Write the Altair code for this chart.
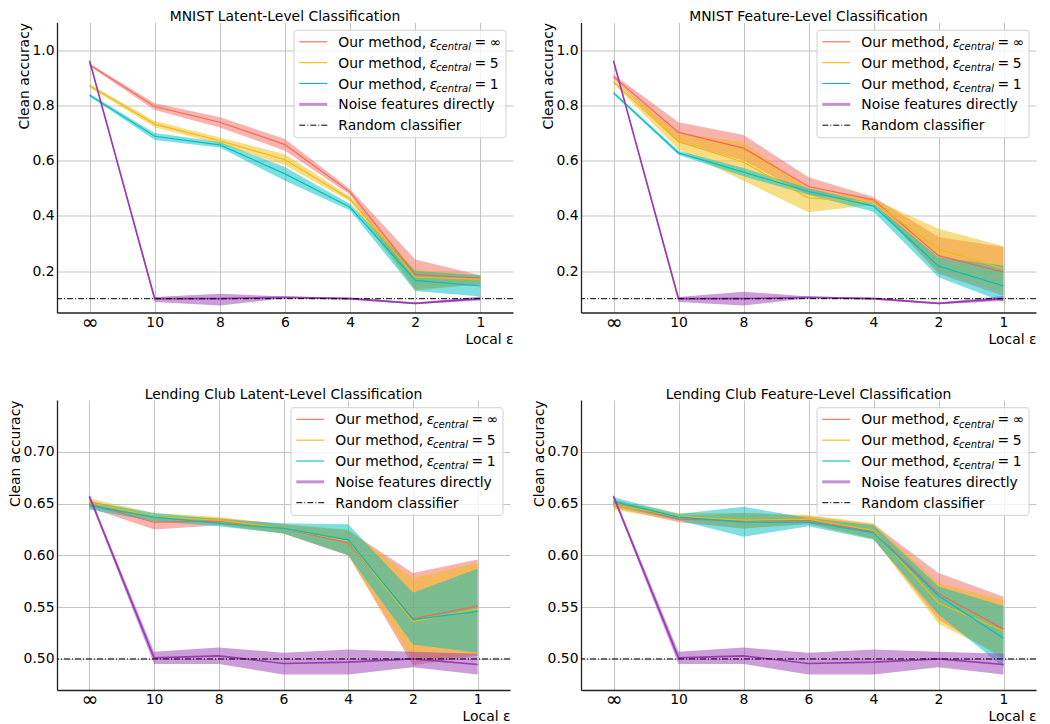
import json
import altair as alt
import pandas as pd

FONT = "DejaVu Sans"
FS = 13.9

# ---------------- data ----------------
x_labels = ["∞", "10", "8", "6", "4", "2", "1"]
x_pos = [0, 1, 2, 3, 4, 5, 6]

# MNIST latent-level
ml_inf_mean = [0.947, 0.796, 0.739, 0.658, 0.486, 0.187, 0.175]
ml_inf_lo = [0.942, 0.783, 0.720, 0.636, 0.476, 0.135, 0.150]
ml_inf_hi = [0.952, 0.808, 0.757, 0.678, 0.496, 0.242, 0.185]
ml_5_mean = [0.871, 0.732, 0.672, 0.603, 0.461, 0.178, 0.170]
ml_5_lo = [0.865, 0.721, 0.660, 0.583, 0.452, 0.128, 0.155]
ml_5_hi = [0.877, 0.743, 0.684, 0.623, 0.470, 0.206, 0.185]
ml_1_mean = [0.837, 0.688, 0.657, 0.552, 0.431, 0.166, 0.146]
ml_1_lo = [0.832, 0.675, 0.647, 0.527, 0.419, 0.128, 0.108]
ml_1_hi = [0.842, 0.700, 0.667, 0.577, 0.443, 0.200, 0.185]
ml_noise_mean = [0.961, 0.100, 0.100, 0.105, 0.100, 0.083, 0.100]
ml_noise_lo = [0.958, 0.088, 0.075, 0.102, 0.096, 0.080, 0.093]
ml_noise_hi = [0.964, 0.106, 0.118, 0.108, 0.104, 0.086, 0.108]

# MNIST feature-level
mf_inf_mean = [0.904, 0.702, 0.645, 0.506, 0.458, 0.256, 0.196]
mf_inf_lo = [0.896, 0.665, 0.600, 0.475, 0.448, 0.190, 0.110]
mf_inf_hi = [0.912, 0.739, 0.693, 0.540, 0.468, 0.323, 0.287]
mf_5_mean = [0.885, 0.668, 0.594, 0.465, 0.449, 0.280, 0.208]
mf_5_lo = [0.878, 0.640, 0.527, 0.413, 0.440, 0.196, 0.122]
mf_5_hi = [0.892, 0.700, 0.666, 0.500, 0.460, 0.353, 0.290]
mf_1_mean = [0.845, 0.628, 0.558, 0.488, 0.435, 0.218, 0.146]
mf_1_lo = [0.840, 0.620, 0.543, 0.476, 0.415, 0.178, 0.088]
mf_1_hi = [0.850, 0.636, 0.573, 0.500, 0.445, 0.250, 0.220]
mf_noise_mean = [0.961, 0.100, 0.100, 0.105, 0.100, 0.083, 0.100]
mf_noise_lo = [0.958, 0.088, 0.075, 0.102, 0.096, 0.080, 0.092]
mf_noise_hi = [0.964, 0.106, 0.125, 0.108, 0.104, 0.086, 0.110]

# Lending Club latent-level
ll_inf_mean = [0.6496, 0.632, 0.633, 0.626, 0.612, 0.539, 0.551]
ll_inf_lo = [0.646, 0.625, 0.629, 0.621, 0.600, 0.494, 0.503]
ll_inf_hi = [0.653, 0.638, 0.636, 0.630, 0.624, 0.583, 0.596]
ll_5_mean = [0.651, 0.6374, 0.634, 0.626, 0.614, 0.536, 0.548]
ll_5_lo = [0.647, 0.634, 0.630, 0.621, 0.600, 0.499, 0.504]
ll_5_hi = [0.655, 0.641, 0.637, 0.630, 0.625, 0.578, 0.593]
ll_1_mean = [0.648, 0.637, 0.631, 0.626, 0.615, 0.538, 0.546]
ll_1_lo = [0.644, 0.633, 0.628, 0.621, 0.600, 0.514, 0.506]
ll_1_hi = [0.652, 0.641, 0.635, 0.631, 0.630, 0.564, 0.587]
ll_noise_mean = [0.657, 0.501, 0.503, 0.4956, 0.497, 0.500, 0.4946]
ll_noise_lo = [0.655, 0.495, 0.495, 0.485, 0.485, 0.492, 0.485]
ll_noise_hi = [0.659, 0.507, 0.511, 0.506, 0.509, 0.507, 0.505]

# Lending Club feature-level
lf_inf_mean = [0.650, 0.635, 0.6335, 0.634, 0.623, 0.563, 0.529]
lf_inf_lo = [0.646, 0.632, 0.626, 0.630, 0.616, 0.538, 0.500]
lf_inf_hi = [0.654, 0.638, 0.641, 0.638, 0.630, 0.583, 0.560]
lf_5_mean = [0.649, 0.6375, 0.634, 0.635, 0.624, 0.554, 0.527]
lf_5_lo = [0.644, 0.634, 0.626, 0.631, 0.616, 0.534, 0.502]
lf_5_hi = [0.653, 0.641, 0.641, 0.639, 0.631, 0.573, 0.557]
lf_1_mean = [0.652, 0.637, 0.632, 0.632, 0.622, 0.561, 0.520]
lf_1_lo = [0.648, 0.634, 0.618, 0.628, 0.615, 0.543, 0.492]
lf_1_hi = [0.656, 0.640, 0.647, 0.636, 0.629, 0.570, 0.551]
lf_noise_mean = [0.657, 0.501, 0.503, 0.4956, 0.497, 0.500, 0.4946]
lf_noise_lo = [0.655, 0.495, 0.495, 0.485, 0.485, 0.492, 0.485]
lf_noise_hi = [0.659, 0.507, 0.511, 0.506, 0.509, 0.507, 0.505]

random_mnist = [0.1]
random_lending = [0.5]

mnist_yticks = [0.2, 0.4, 0.6, 0.8, 1.0]
lending_yticks = [0.50, 0.55, 0.60, 0.65, 0.70]

titles = [
    "MNIST Latent-Level Classification",
    "MNIST Feature-Level Classification",
    "Lending Club Latent-Level Classification",
    "Lending Club Feature-Level Classification",
]

series_keys = ["inf", "5", "1", "noise"]
series_colors = {"inf": "#f3675b", "5": "#efbb0d", "1": "#00bfc1", "noise": "#9a3bb3"}
line_widths = {"inf": 1.2, "5": 1.2, "1": 1.2, "noise": 1.7}
legend_eps_values = ["∞", "5", "1"]

_one = pd.DataFrame({"k": [0]})
label_expr = json.dumps(x_labels, ensure_ascii=False) + "[datum.value]"


def txt(x, y, s, size=FS, style="normal"):
    return (alt.Chart(_one)
            .mark_text(align="left", baseline="alphabetic", font=FONT, fontSize=size,
                       fontStyle=style, color="black")
            .encode(x=alt.value(x), y=alt.value(y), text=alt.value(s)))


def legend_layers(width):
    layers = []
    box_r = width - 7
    box_l = box_r - 212
    box_t = 7.7
    box_b = box_t + 107.6
    layers.append(
        alt.Chart(_one).mark_rect(fill="white", fillOpacity=0.8, stroke="#d0d0d0",
                                  strokeWidth=1, cornerRadius=3)
        .encode(x=alt.value(box_l), x2=alt.value(box_r), y=alt.value(box_t), y2=alt.value(box_b))
    )
    sx0 = box_l + 5.3
    sx1 = box_l + 33.3
    tx = box_l + 44.3
    for i in range(5):
        ry = box_t + 11.6 + 20.85 * i
        by = ry + 5
        if i < 3:
            key = series_keys[i]
            layers.append(alt.Chart(_one).mark_rule(color=series_colors[key], strokeWidth=1.1)
                          .encode(x=alt.value(sx0), x2=alt.value(sx1), y=alt.value(ry)))
            layers.append(txt(tx, by, "Our method,"))
            layers.append(txt(tx + 91.5, by, "ε", style="italic"))
            layers.append(txt(tx + 97.8, by + 3.2, "central", size=10, style="italic"))
            layers.append(txt(tx + 136.3, by, "="))
            layers.append(txt(tx + 151.5, by, legend_eps_values[i]))
        elif i == 3:
            layers.append(alt.Chart(_one).mark_rule(color="#c58fd6", strokeWidth=3)
                          .encode(x=alt.value(sx0), x2=alt.value(sx1), y=alt.value(ry)))
            layers.append(txt(tx, by, "Noise features directly"))
        else:
            layers.append(alt.Chart(_one).mark_rule(color="black", strokeWidth=1, strokeDash=[6, 2, 1, 2])
                          .encode(x=alt.value(sx0), x2=alt.value(sx1), y=alt.value(ry)))
            layers.append(txt(tx, by, "Random classifier"))
    return layers


def make_panel(title, data, random_level, ydomain, yticks, yfmt, width, height=290):
    xscale = alt.Scale(domain=[-0.5, 6.5], nice=False, zero=False)
    yscale = alt.Scale(domain=ydomain, nice=False, zero=False)
    xaxis = alt.Axis(values=x_pos, labelExpr=label_expr, title="Local ε", titleAnchor="end",
                     grid=True, ticks=False, tickSize=0, labelAngle=0, labelBaseline="middle",
                     labelPadding=9.5, titlePadding=0, minExtent=0,
                     labelFontSize={"condition": {"test": "datum.value == 0", "value": 20}, "value": FS})
    yaxis = alt.Axis(values=yticks, format=yfmt, title="Clean accuracy", titleAnchor="end",
                     grid=True, ticks=False, tickSize=0, labelPadding=3, titlePadding=0.5, minExtent=0)
    X = alt.X("x:Q", scale=xscale, axis=xaxis)
    layers = []
    for key in series_keys:
        mean, lo, hi = data[key]
        df = pd.DataFrame({"x": x_pos, "mean": mean, "lo": lo, "hi": hi})
        layers.append(
            alt.Chart(df).mark_area(color=series_colors[key], opacity=0.5)
            .encode(X, alt.Y("lo:Q", scale=yscale, axis=yaxis), alt.Y2("hi:Q"))
        )
    for key in series_keys:
        mean, lo, hi = data[key]
        df = pd.DataFrame({"x": x_pos, "mean": mean, "lo": lo, "hi": hi})
        layers.append(
            alt.Chart(df).mark_line(color=series_colors[key], strokeWidth=line_widths[key])
            .encode(X, alt.Y("mean:Q", scale=yscale, axis=yaxis))
        )
    layers.append(
        alt.Chart(pd.DataFrame({"level": random_level}))
        .mark_rule(color="black", strokeWidth=1, strokeDash=[6, 2, 1, 2])
        .encode(y=alt.Y("level:Q", scale=yscale, axis=yaxis))
    )
    layers += legend_layers(width)
    return alt.layer(*layers).properties(width=width, height=height, title=title)


ml = {"inf": (ml_inf_mean, ml_inf_lo, ml_inf_hi), "5": (ml_5_mean, ml_5_lo, ml_5_hi),
      "1": (ml_1_mean, ml_1_lo, ml_1_hi), "noise": (ml_noise_mean, ml_noise_lo, ml_noise_hi)}
mf = {"inf": (mf_inf_mean, mf_inf_lo, mf_inf_hi), "5": (mf_5_mean, mf_5_lo, mf_5_hi),
      "1": (mf_1_mean, mf_1_lo, mf_1_hi), "noise": (mf_noise_mean, mf_noise_lo, mf_noise_hi)}
ll = {"inf": (ll_inf_mean, ll_inf_lo, ll_inf_hi), "5": (ll_5_mean, ll_5_lo, ll_5_hi),
      "1": (ll_1_mean, ll_1_lo, ll_1_hi), "noise": (ll_noise_mean, ll_noise_lo, ll_noise_hi)}
lf = {"inf": (lf_inf_mean, lf_inf_lo, lf_inf_hi), "5": (lf_5_mean, lf_5_lo, lf_5_hi),
      "1": (lf_1_mean, lf_1_lo, lf_1_hi), "noise": (lf_noise_mean, lf_noise_lo, lf_noise_hi)}

p1 = make_panel(titles[0], ml, random_mnist, [0.05, 1.1], mnist_yticks, ".1f", 456)
p2 = make_panel(titles[1], mf, random_mnist, [0.05, 1.1], mnist_yticks, ".1f", 455)
p3 = make_panel(titles[2], ll, random_lending, [0.47, 0.75], lending_yticks, ".2f", 453)
p4 = make_panel(titles[3], lf, random_lending, [0.47, 0.75], lending_yticks, ".2f", 455)

chart = (
    alt.concat(p1, p2, p3, p4, columns=2, spacing={"row": 40.5, "column": 18})
    .properties(padding={"left": 0, "top": 1.5, "right": 0, "bottom": 0})
    .configure(font=FONT)
    .configure_view(stroke=None)
    .configure_axis(
        domainColor="#222222", domainWidth=1.3, gridColor="#c4c4c4", gridWidth=1,
        labelFont=FONT, labelFontSize=FS, labelColor="black", tickSize=0,
        titleFont=FONT, titleFontSize=FS, titleFontWeight="normal", titleColor="black",
    )
    .configure_title(font=FONT, fontSize=FS, fontWeight="normal", color="black", offset=-1.5, anchor="middle")
)

chart.save("out.html", embed_options={"renderer": "svg", "actions": False})
